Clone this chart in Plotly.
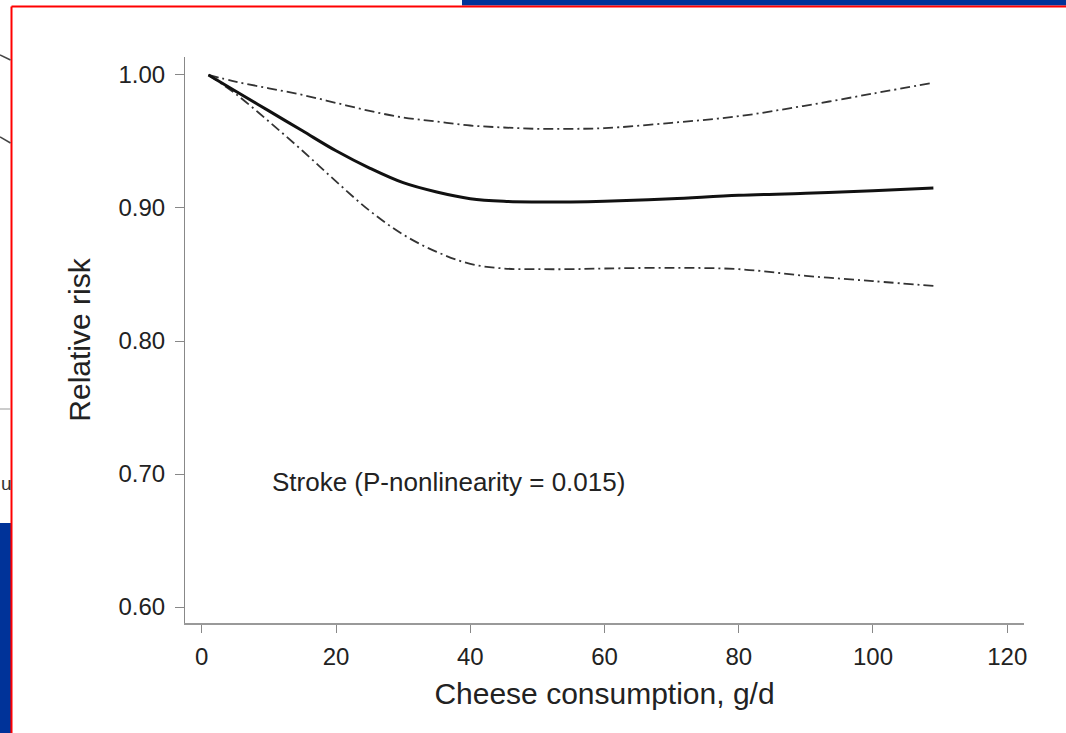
import plotly.graph_objects as go

# ---------------- data ----------------
cheese_g_per_day = [1, 5, 10, 15, 20, 25, 30, 35, 40, 45, 50, 55, 60, 70, 80, 90, 100, 109]
rr_estimate = [1.000, 0.988, 0.973, 0.958, 0.943, 0.930, 0.919, 0.912, 0.907, 0.905,
               0.9045, 0.9045, 0.905, 0.907, 0.9095, 0.911, 0.913, 0.915]
rr_upper = [1.000, 0.995, 0.990, 0.985, 0.979, 0.973, 0.968, 0.965, 0.962, 0.9605,
            0.9595, 0.9595, 0.960, 0.964, 0.969, 0.977, 0.986, 0.9942]
rr_lower = [1.000, 0.986, 0.965, 0.943, 0.920, 0.898, 0.880, 0.867, 0.858, 0.8545,
            0.854, 0.854, 0.8545, 0.855, 0.854, 0.849, 0.845, 0.8414]
x_ticks = [0, 20, 40, 60, 80, 100, 120]
y_ticks = [0.60, 0.70, 0.80, 0.90, 1.00]
y_tick_text = ["0.60", "0.70", "0.80", "0.90", "1.00"]
annotation_text = "Stroke (P-nonlinearity = 0.015)"

# ---------------- layout geometry ----------------
W, H = 1066, 733
L, R, T, B = 185, 42, 57, 110
PW, PH = W - L - R, H - T - B


def px(x):
    return (x - L) / PW


def py(y):
    return (H - B - y) / PH


FONT = "Arial, Liberation Sans, Helvetica, sans-serif"

fig = go.Figure()
fig.add_trace(go.Scatter(x=cheese_g_per_day, y=rr_upper, mode="lines", line_shape="spline",
                         line=dict(color="#333333", width=1.8, dash="10px,4px,2px,4px"),
                         showlegend=False, hoverinfo="skip"))
fig.add_trace(go.Scatter(x=cheese_g_per_day, y=rr_lower, mode="lines", line_shape="spline",
                         line=dict(color="#333333", width=1.8, dash="10px,4px,2px,4px"),
                         showlegend=False, hoverinfo="skip"))
fig.add_trace(go.Scatter(x=cheese_g_per_day, y=rr_estimate, mode="lines", line_shape="spline",
                         line=dict(color="#111111", width=3),
                         showlegend=False, name="Relative risk"))

fig.add_annotation(x=10.2, y=0.694, xref="x", yref="y", text=annotation_text,
                   showarrow=False, xanchor="left", yanchor="middle",
                   font=dict(family=FONT, size=26, color="#222222"))

# ---- decorations from the surrounding slide (screenshot frame) ----
NAVY = "#003399"
shapes = [
    dict(type="rect", xref="paper", yref="paper", x0=px(462), x1=px(1066), y0=py(5.5), y1=py(0),
         fillcolor=NAVY, line=dict(width=0), layer="above"),
    dict(type="rect", xref="paper", yref="paper", x0=px(0), x1=px(11), y0=py(733), y1=py(523),
         fillcolor=NAVY, line=dict(width=0), layer="above"),
    dict(type="line", xref="paper", yref="paper", x0=px(11.5), x1=px(1066), y0=py(6.5), y1=py(6.5),
         line=dict(color="#ff0000", width=2), layer="above"),
    dict(type="line", xref="paper", yref="paper", x0=px(11.5), x1=px(11.5), y0=py(6.5), y1=py(733),
         line=dict(color="#ff0000", width=2), layer="above"),
    dict(type="line", xref="paper", yref="paper", x0=px(0), x1=px(10.5), y0=py(409), y1=py(409),
         line=dict(color="#999999", width=1), layer="above"),
    dict(type="line", xref="paper", yref="paper", x0=px(0), x1=px(10.5), y0=py(55), y1=py(60),
         line=dict(color="#444444", width=1.5), layer="above"),
    dict(type="line", xref="paper", yref="paper", x0=px(0), x1=px(10.5), y0=py(137), y1=py(143),
         line=dict(color="#444444", width=1.5), layer="above"),
]
fig.add_annotation(x=px(0), y=py(483), xref="paper", yref="paper", text="u", showarrow=False,
                   xanchor="left", yanchor="middle", borderpad=0,
                   font=dict(family=FONT, size=19, color="#333333"))

fig.update_layout(
    width=W, height=H,
    margin=dict(l=L, r=R, t=T, b=B, pad=0),
    paper_bgcolor="white", plot_bgcolor="white",
    shapes=shapes,
    font=dict(family=FONT, color="#222222"),
    xaxis=dict(range=[-2.5, 122.5], tickmode="array", tickvals=x_ticks,
               showline=True, linecolor="#999999", linewidth=2, mirror=False,
               ticks="outside", ticklen=8, tickwidth=1.2, tickcolor="#888888",
               showgrid=False, zeroline=False, ticklabelstandoff=3,
               tickfont=dict(family=FONT, size=24, color="#222222"),
               title=dict(text="Cheese consumption, g/d", standoff=14,
                          font=dict(family=FONT, size=30, color="#222222"))),
    yaxis=dict(range=[0.588, 1.0135], tickmode="array", tickvals=y_ticks, ticktext=y_tick_text,
               showline=True, linecolor="#888888", linewidth=1.2, mirror=False,
               ticks="outside", ticklen=9, tickwidth=1.2, tickcolor="#888888",
               showgrid=False, zeroline=False, ticklabelstandoff=5,
               tickfont=dict(family=FONT, size=24, color="#222222"),
               title=dict(text="Relative risk", standoff=18,
                          font=dict(family=FONT, size=30, color="#222222"))),
)

fig.write_html("out.html", post_script="document.body.style.margin='0';",
               config={"displayModeBar": False})
